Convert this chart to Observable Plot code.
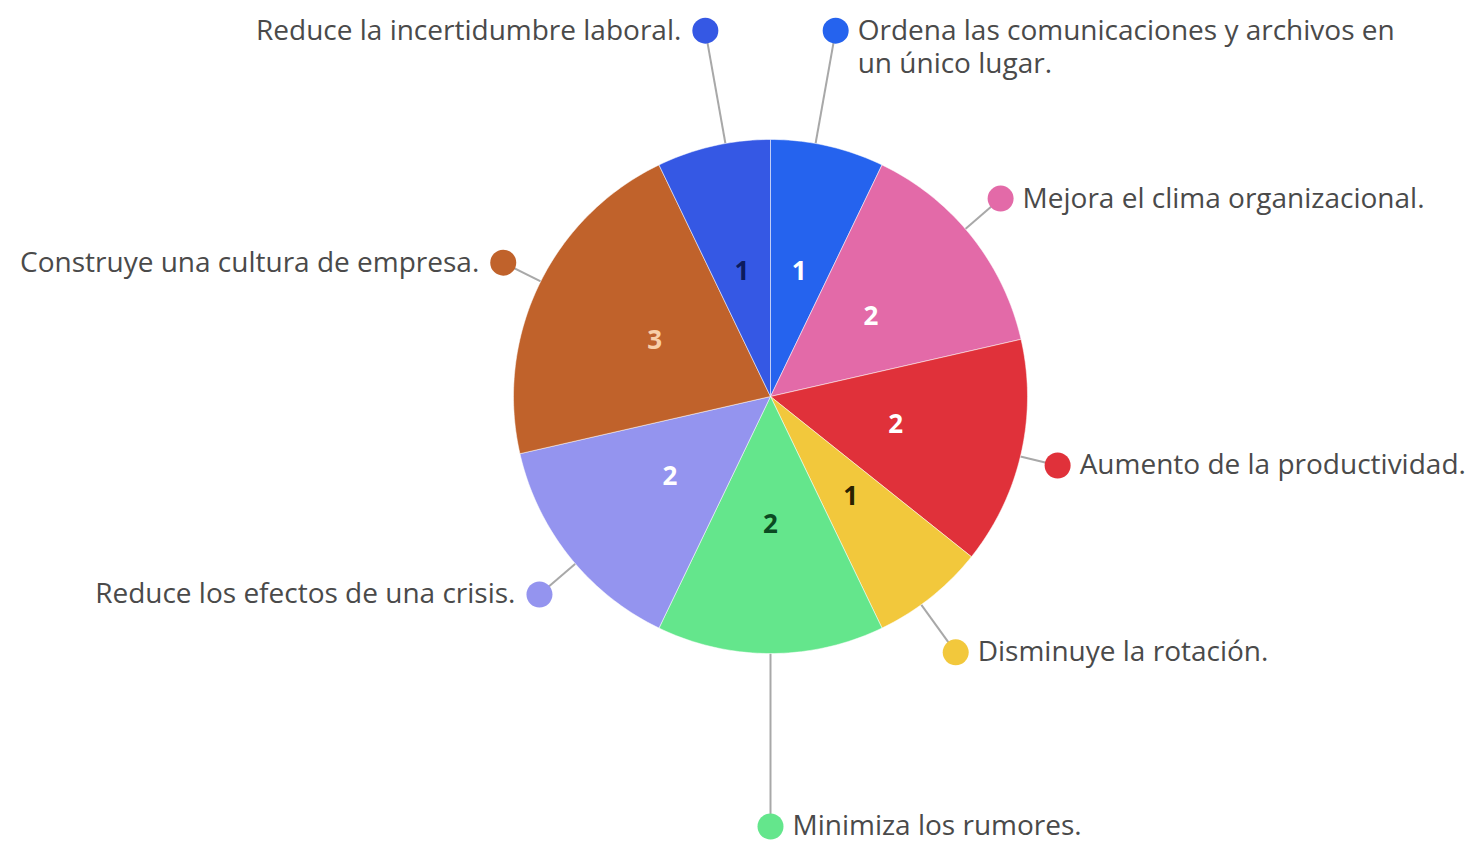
<!DOCTYPE html>
<html><head><meta charset="utf-8">
<script src="https://cdn.jsdelivr.net/npm/d3@7"></script>
<script src="https://cdn.jsdelivr.net/npm/@observablehq/plot@0.6"></script>
<style>html,body{margin:0;padding:0;background:#fff;overflow:hidden;}</style>
</head><body><div id="chart"></div>
<script>
// ---- data ----
const labels = [
  "Ordena las comunicaciones y archivos en\nun único lugar.",
  "Mejora el clima organizacional.",
  "Aumento de la productividad.",
  "Disminuye la rotación.",
  "Minimiza los rumores.",
  "Reduce los efectos de una crisis.",
  "Construye una cultura de empresa.",
  "Reduce la incertidumbre laboral."
];
const values = [1, 2, 2, 1, 2, 2, 3, 1];
const colors = ["#2563ee", "#e36aa8", "#e0313a", "#f2c83c", "#64e68c", "#9494ef", "#c0622b", "#3558e4"];
const valueTextColors = ["#ffffff", "#ffffff", "#ffffff", "#2a2100", "#0b4a22", "#ffffff", "#f8cfa8", "#0c1b5e"];

// ---- layout (not data) ----
const W = 1473, H = 843, CX = 770, CY = 396, R = 257;
const labelAngles = [10.1, 49.3, 103.5, 144.1, 180, 229.4, 296.6, -10.1]; // degrees, clockwise from top
const labelRadii  = [1.446, 1.181, 1.149, 1.229, 1.673, 1.184, 1.163, 1.446]; // in pie radii
const FS = 28, LH = 1.18;

const data = labels.map((label, i) => ({label, value: values[i], color: colors[i], tcolor: valueTextColors[i], i}));
const arcs = d3.pie().sort(null).value(d => d.value)(data);

// polygons for slices
const polyPts = [];
arcs.forEach(a => {
  const n = Math.max(8, Math.ceil((a.endAngle - a.startAngle) / (Math.PI / 180)));
  polyPts.push({k: a.index, x: 0, y: 0, color: a.data.color});
  for (let j = 0; j <= n; j++) {
    const t = a.startAngle + (a.endAngle - a.startAngle) * j / n;
    polyPts.push({k: a.index, x: Math.sin(t), y: Math.cos(t), color: a.data.color});
  }
  polyPts.push({k: a.index, x: 0, y: 0, color: a.data.color});
});

const valueLabels = arcs.map(a => {
  const m = (a.startAngle + a.endAngle) / 2;
  return {x: 0.5 * Math.sin(m), y: 0.5 * Math.cos(m), text: String(a.data.value), c: a.data.tcolor};
});

const callouts = data.map((d, i) => {
  const t = labelAngles[i] * Math.PI / 180;
  return {
    x0: Math.sin(t), y0: Math.cos(t),
    x: labelRadii[i] * Math.sin(t), y: labelRadii[i] * Math.cos(t),
    color: d.color, label: d.label, right: Math.sin(t) > -1e-9
  };
});

const textDy = (0.32 - 0.71 * LH) * FS;

const chart = Plot.plot({
  width: W, height: H,
  margin: 0,
  x: {domain: [-CX / R, (W - CX) / R], axis: null},
  y: {domain: [-(H - CY) / R, CY / R], axis: null},
  color: {type: "identity"},
  style: {background: "#fff", fontFamily: "'Open Sans', sans-serif"},
  marks: [
    Plot.link(callouts, {x1: "x0", y1: "y0", x2: "x", y2: "y", stroke: "#a8a8a8", strokeWidth: 2}),
    Plot.line(polyPts, {x: "x", y: "y", z: "k", fill: "color", stroke: "#ffffff", strokeWidth: 1, strokeOpacity: 0.5, curve: "linear"}),
    Plot.dot(callouts, {x: "x", y: "y", r: 13, fill: "color", stroke: null}),
    Plot.text(callouts.filter(d => d.right), {x: "x", y: "y", text: "label", textAnchor: "start", lineAnchor: "top", lineHeight: LH, dx: 22, dy: textDy, fontSize: FS, fill: "#4a4a4a", letterSpacing: "1px"}),
    Plot.text(callouts.filter(d => !d.right), {x: "x", y: "y", text: "label", textAnchor: "end", lineAnchor: "top", lineHeight: LH, dx: -24, dy: textDy, fontSize: FS, fill: "#4a4a4a", letterSpacing: "1px"}),
    Plot.text(valueLabels, {x: "x", y: "y", text: "text", fill: "c", fontSize: 26, fontWeight: 700})
  ]
});
document.getElementById("chart").appendChild(chart);
</script>
</body></html>
